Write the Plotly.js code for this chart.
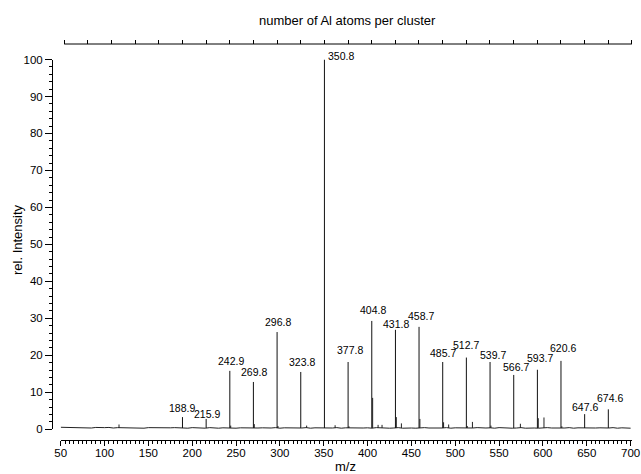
<!DOCTYPE html>
<html>
<head>
<meta charset="utf-8">
<script src="https://cdn.plot.ly/plotly-3.0.1.min.js"></script>
<style>html,body{margin:0;padding:0;background:#fff}#chart{width:641px;height:474px}</style>
</head>
<body>
<div id="chart"></div>
<script>
// Labelled Al_n+ cluster peaks (m/z, rel. intensity)
var peakMz = [188.9, 215.9, 242.9, 269.8, 296.8, 323.8, 350.8, 377.8, 404.8, 431.8, 458.7, 485.7, 512.7, 539.7, 566.7, 593.7, 620.6, 647.6, 674.6];
var peakInt = [3.3, 2.8, 15.8, 12.8, 26.3, 15.5, 100, 18.2, 29.3, 26.9, 27.7, 18.2, 19.4, 18.2, 14.7, 16.1, 18.5, 4.1, 5.4];
var peakLabels = ["188.9", "215.9", "242.9", "269.8", "296.8", "323.8", "350.8", "377.8", "404.8", "431.8", "458.7", "485.7", "512.7", "539.7", "566.7", "593.7", "620.6", "647.6", "674.6"];

// Small unlabelled peaks
var minorMz = [116.5, 243.9, 270.8, 297.8, 330.5, 363.0, 378.8, 405.8, 412.0, 416.5, 432.8, 438.6, 459.7, 486.7, 492.5, 513.7, 519.6, 540.7, 574.3, 594.7, 601.2, 621.6];
var minorInt = [1.3, 1.0, 1.4, 0.9, 1.0, 1.1, 0.8, 8.5, 1.2, 1.2, 3.3, 1.6, 2.8, 1.9, 1.3, 0.9, 2.0, 1.0, 1.5, 3.0, 3.2, 0.8];

// Noisy baseline samples
var baseMz = [50, 55, 60, 65, 70, 75, 80, 85, 90, 95, 100, 105, 110, 115, 120, 125, 130, 135, 140, 145, 150, 155, 160, 165, 170, 175, 180, 185, 190, 195, 200, 205, 210, 215, 220, 225, 230, 235, 240, 245, 250, 255, 260, 265, 270, 275, 280, 285, 290, 295, 300, 305, 310, 315, 320, 325, 330, 335, 340, 345, 350, 355, 360, 365, 370, 375, 380, 385, 390, 395, 400, 405, 410, 415, 420, 425, 430, 435, 440, 445, 450, 455, 460, 465, 470, 475, 480, 485, 490, 495, 500, 505, 510, 515, 520, 525, 530, 535, 540, 545, 550, 555, 560, 565, 570, 575, 580, 585, 590, 595, 600, 605, 610, 615, 620, 625, 630, 635, 640, 645, 650, 655, 660, 665, 670, 675, 680, 685, 690, 695, 700];
var baseInt = [0.55, 0.5, 0.45, 0.5, 0.4, 0.5, 0.45, 0.35, 0.5, 0.4, 0.45, 0.5, 0.35, 0.45, 0.4, 0.5, 0.35, 0.45, 0.4, 0.3, 0.45, 0.4, 0.35, 0.45, 0.3, 0.4, 0.45, 0.35, 0.4, 0.3, 0.45, 0.35, 0.4, 0.3, 0.45, 0.35, 0.3, 0.4, 0.35, 0.45, 0.3, 0.4, 0.35, 0.3, 0.45, 0.35, 0.4, 0.3, 0.35, 0.45, 0.3, 0.4, 0.35, 0.3, 0.4, 0.35, 0.45, 0.3, 0.4, 0.35, 0.3, 0.4, 0.35, 0.45, 0.3, 0.4, 0.35, 0.3, 0.45, 0.35, 0.4, 0.3, 0.45, 0.35, 0.4, 0.3, 0.35, 0.45, 0.3, 0.4, 0.35, 0.3, 0.4, 0.45, 0.35, 0.3, 0.4, 0.35, 0.45, 0.3, 0.4, 0.35, 0.3, 0.4, 0.35, 0.45, 0.3, 0.35, 0.4, 0.3, 0.45, 0.35, 0.4, 0.3, 0.35, 0.45, 0.3, 0.4, 0.35, 0.3, 0.4, 0.45, 0.35, 0.3, 0.4, 0.35, 0.45, 0.3, 0.4, 0.35, 0.3, 0.45, 0.35, 0.4, 0.3, 0.35, 0.45, 0.3, 0.4, 0.35, 0.3];

// Top axis: number of Al atoms (n = 2 ... 26), mass of Al
var alAtoms = [2, 3, 4, 5, 6, 7, 8, 9, 10, 11, 12, 13, 14, 15, 16, 17, 18, 19, 20, 21, 22, 23, 24, 25, 26];
var alMass = 26.98;

// Label placement (style only): pixel offsets of each label centre from its peak top
var labelDx = [0, 1.3, 1, 0.5, 1, 1, 2, 1.4, 1.5, 0.7, 1.7, 0, 0, 3, 2, 2.5, 1.7, 0.5, 1.3];
var labelDy = [9.5, 4.5, 9.5, 9.7, 10, 9.5, 4, 12, 11, 6, 11, 9, 13, 7, 8, 12, 12.7, 7, 11];

var FONT = "Liberation Sans, Arial, Helvetica, sans-serif";
var BASE = 0.35;
var XMIN = 50, XMAX = 701.6;

function segs(xs, ys) {
  var x = [], y = [];
  for (var i = 0; i < xs.length; i++) { x.push(xs[i], xs[i], null); y.push(BASE, ys[i], null); }
  return {x: x, y: y};
}
var pk = segs(peakMz, peakInt);
var mn = segs(minorMz, minorInt);
var topTicks = alAtoms.map(function (n) { return n * alMass; });

var traces = [
  {type: "scatter", mode: "lines", x: baseMz, y: baseInt, line: {color: "#222", width: 1}, hoverinfo: "skip", showlegend: false},
  {type: "scatter", mode: "lines", x: mn.x, y: mn.y, line: {color: "#222", width: 1}, hoverinfo: "skip", showlegend: false},
  {type: "scatter", mode: "lines", x: pk.x, y: pk.y, line: {color: "#111", width: 1}, hoverinfo: "skip", showlegend: false},
  {type: "scatter", mode: "lines", x: [topTicks[0]], y: [null], xaxis: "x2", yaxis: "y", hoverinfo: "skip", showlegend: false}
];

var W = 641, H = 474, L = 52, T = 44, B = 34;
var R = W - 632.4;
var pw = W - L - R, ph = H - T - B;
var xd0 = (60.7 - L) / pw;
var yd0 = (440 - 429.3) / ph, yd1 = (440 - 59.5) / ph;
function mzToPaper(m) { return xd0 + (m - XMIN) / (XMAX - XMIN) * (1 - xd0); }

var annotations = peakMz.map(function (m, i) {
  var big = peakInt[i] > 90;
  return {
    x: m, y: peakInt[i], xref: "x", yref: "y", text: peakLabels[i], showarrow: false,
    xanchor: big ? "left" : "center", yanchor: "middle",
    xshift: labelDx[i], yshift: labelDy[i],
    font: {family: FONT, size: 10.5, color: "#000"}
  };
});
annotations.push({xref: "paper", yref: "paper", x: (348 - L) / pw, y: (440 - 21) / ph, text: "number of Al atoms per cluster", showarrow: false, xanchor: "center", yanchor: "middle", font: {family: FONT, size: 13, color: "#000"}});
annotations.push({xref: "paper", yref: "paper", x: (346 - L) / pw, y: (440 - 466) / ph, text: "m/z", showarrow: false, xanchor: "center", yanchor: "middle", borderpad: 0, font: {family: FONT, size: 13, color: "#000"}});
annotations.push({xref: "paper", yref: "paper", x: (17 - L) / pw, y: (440 - 240) / ph, text: "rel. Intensity", textangle: -90, showarrow: false, xanchor: "center", yanchor: "middle", font: {family: FONT, size: 13, color: "#000"}});

var layout = {
  width: W, height: H,
  margin: {l: L, r: R, t: T, b: B, pad: 0},
  paper_bgcolor: "#fff", plot_bgcolor: "#fff",
  showlegend: false,
  font: {family: FONT, size: 11, color: "#000"},
  xaxis: {
    domain: [xd0, 1], range: [XMIN, XMAX], anchor: "free", position: 0,
    showgrid: false, zeroline: false, showline: true, linecolor: "#000", linewidth: 1,
    ticks: "outside", ticklen: 5, tickwidth: 1, tickcolor: "#000", dtick: 50, tick0: 0,
    ticklabelstandoff: -3,
    tickfont: {family: FONT, size: 11.5, color: "#000"},
    minor: {dtick: 5, ticklen: 3, tickcolor: "#000", ticks: "outside", showgrid: false}
  },
  xaxis2: {
    overlaying: "x", side: "top", anchor: "free", position: 1, range: [XMIN, XMAX],
    showgrid: false, zeroline: false, showline: false, showticklabels: false,
    tickmode: "array", tickvals: topTicks, ticks: "outside", ticklen: 4, tickwidth: 1, tickcolor: "#000",
    minor: {ticks: "", showgrid: false}
  },
  yaxis: {
    domain: [yd0, yd1], range: [0, 100], anchor: "free", position: 0,
    showgrid: false, zeroline: false, showline: true, linecolor: "#000", linewidth: 1,
    ticks: "outside", ticklen: 7, tickwidth: 1, tickcolor: "#000", dtick: 10, tick0: 0,
    tickfont: {family: FONT, size: 11.5, color: "#000"},
    minor: {dtick: 2, ticklen: 3.5, tickcolor: "#000", ticks: "outside", showgrid: false}
  },
  shapes: [{type: "line", xref: "paper", yref: "paper", x0: mzToPaper(topTicks[0]), x1: mzToPaper(topTicks[topTicks.length - 1]), y0: 1, y1: 1, line: {color: "#000", width: 1}}],
  annotations: annotations
};

Plotly.newPlot("chart", traces, layout, {staticPlot: true, displayModeBar: false});
</script>
</body>
</html>
